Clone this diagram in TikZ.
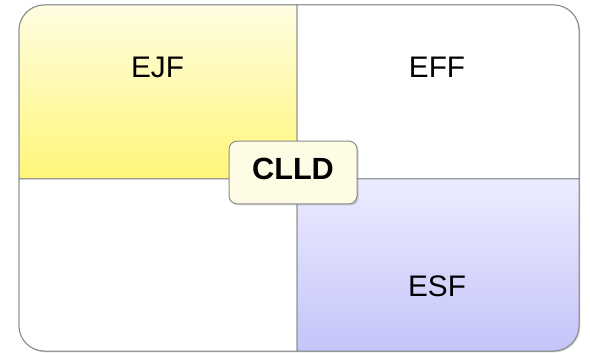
\documentclass[tikz,border=0pt]{standalone}
\usepackage{fontspec}
\setmainfont{Liberation Sans}
\usetikzlibrary{shadows}

\definecolor{quadline}{RGB}{140,140,140}
\definecolor{ejftop}{RGB}{255,253,226}
\definecolor{ejfbot}{RGB}{255,246,120}
\definecolor{esftop}{RGB}{236,236,255}
\definecolor{esfbot}{RGB}{196,196,250}
\definecolor{clldfill}{RGB}{255,252,230}

\tikzset{every picture/.style={line width=0.75pt}}
\tikzset{
  quad/.style={draw=quadline, line width=0.75},
  quadlabel/.style={font=\fontsize{22.3}{26}\selectfont},
  centrebox/.style={draw=quadline, fill=clldfill, rounded corners=6,
    minimum width=96, minimum height=47, inner sep=0, text depth=5.2pt,
    font=\fontsize{23}{26}\selectfont\bfseries,
    drop shadow={opacity=0.35, shadow xshift=1.2pt, shadow yshift=-1.2pt}}
}

\begin{document}
\begin{tikzpicture}[x=0.75pt,y=0.75pt,yscale=-1,xscale=1]
\useasboundingbox (0,0) rectangle (590,353);

%Shape: Rounded Rectangle frame
\draw [quad, fill=white, drop shadow={opacity=0.3, shadow xshift=1pt, shadow yshift=-1pt}] [rounded corners=19] (19,5) rectangle (579,351) ;
%Shape: Rectangle top left
\draw [quad, top color=ejftop, bottom color=ejfbot]  (19,179) [rounded corners=19] -- (19,5) [sharp corners] -- (297,5) -- (297,179) -- cycle ;
%Shape: Rectangle top right
\draw [quad, fill=white]  (297,5) [rounded corners=19] -- (579,5) [sharp corners] -- (579,179) -- (297,179) -- cycle ;
%Shape: Rectangle bottom left
\draw [quad, fill=white]  (297,351) [rounded corners=19] -- (19,351) [sharp corners] -- (19,179) -- (297,179) -- cycle ;
%Shape: Rectangle bottom right
\draw [quad, top color=esftop, bottom color=esfbot]  (297,179) -- (579,179) [rounded corners=19] -- (579,351) [sharp corners] -- (297,351) -- cycle ;

% Text Node
\node [quadlabel] (ejf) at (157.5,67.5) {EJF};
% Text Node
\node [quadlabel] (eff) at (437,67.5) {EFF};
% Text Node
\node [quadlabel] (esf) at (437,286.5) {ESF};
% Centre Node
\node [centrebox] (clld) at (293,172.5) {CLLD};

\end{tikzpicture}
\end{document}
